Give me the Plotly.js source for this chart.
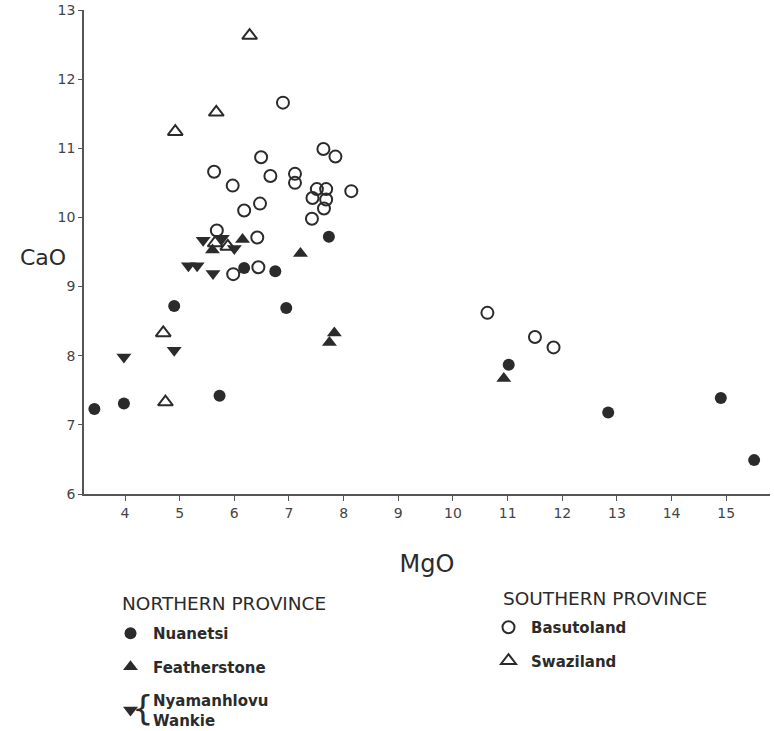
<!DOCTYPE html>
<html><head><meta charset="utf-8">
<script src="https://cdn.plot.ly/plotly-3.0.1.min.js"></script>
<style>html,body{margin:0;padding:0;background:#fff}#chart{width:774px;height:731px}</style>
</head><body><div id="chart"></div>
<script>
// Northern Province
const nuanetsiMgO = [3.44,3.98,4.90,5.73,6.18,6.75,6.95,7.73,11.02,12.84,14.90,15.51];
const nuanetsiCaO = [7.23,7.31,8.72,7.42,9.27,9.22,8.69,9.72,7.87,7.18,7.39,6.49];
const featherMgO = [5.60,6.15,7.21,7.74,7.83,10.93];
const featherCaO = [9.53,9.68,9.48,8.19,8.33,7.67];
const nyamaMgO = [3.98,4.90,5.16,5.32,5.43,5.61,5.78,6.00];
const nyamaCaO = [7.98,8.08,9.30,9.30,9.67,9.19,9.70,9.55];
// Southern Province
const basutoMgO = [6.89,7.63,7.85,6.49,5.63,6.66,7.11,7.11,5.97,7.51,7.68,8.14,7.43,7.68,6.47,6.18,7.64,7.42,5.68,6.42,5.98,6.44,10.63,11.50,11.84];
const basutoCaO = [11.66,10.99,10.88,10.87,10.66,10.60,10.63,10.50,10.46,10.41,10.41,10.38,10.28,10.26,10.20,10.10,10.13,9.98,9.81,9.71,9.18,9.28,8.62,8.27,8.12];
const swaziMgO = [4.70,4.74,4.92,5.67,6.28,5.65,5.88];
const swaziCaO = [8.33,7.33,11.24,11.52,12.63,9.63,9.58];

const xTicks = [4,5,6,7,8,9,10,11,12,13,14,15];
const yTicks = [6,7,8,9,10,11,12,13];
const groupTitles = ['NORTHERN PROVINCE', 'SOUTHERN PROVINCE'];

const ink = '#2b2b2b';
const FONT = 'DejaVu Sans, sans-serif';

const traces = [
  {name:'Nuanetsi', x:nuanetsiMgO, y:nuanetsiCaO, legend:'legend', legendgroup:'a',
   marker:{symbol:'circle', size:12, color:ink}},
  {name:'Featherstone', x:featherMgO, y:featherCaO, legend:'legend', legendgroup:'b',
   marker:{symbol:'triangle-up', size:13, color:ink}},
  {name:'Nyamanhlovu<br>Wankie', x:nyamaMgO, y:nyamaCaO, legend:'legend', legendgroup:'c',
   marker:{symbol:'triangle-down', size:13, color:ink}},
  {name:'Basutoland', x:basutoMgO, y:basutoCaO, legend:'legend2', legendgroup:'d',
   marker:{symbol:'circle-open', size:12, color:ink, line:{width:2, color:ink}}},
  {name:'Swaziland', x:swaziMgO, y:swaziCaO, legend:'legend2', legendgroup:'e',
   marker:{symbol:'triangle-up-open', size:13, color:ink, line:{width:2, color:ink}}}
].map(t => Object.assign({type:'scatter', mode:'markers', hoverinfo:'x+y+name'}, t));

const legendCommon = {
  xanchor:'left', yanchor:'top', bgcolor:'rgba(0,0,0,0)', borderwidth:0,
  font:{family:FONT, size:15, color:ink, weight:'bold'},
  indentation:-10, itemwidth:35, tracegroupgap:11, traceorder:'grouped', maxheight:1
};

const layout = {
  width:774, height:731,
  margin:{l:84, r:4, t:10, b:237, autoexpand:false},
  paper_bgcolor:'#fff', plot_bgcolor:'#fff',
  font:{family:FONT, color:ink},
  showlegend:true,
  xaxis:{range:[3.25,15.8], tickvals:xTicks, ticktext:xTicks.map(String),
    ticks:'outside', ticklen:5, tickwidth:1.3, tickcolor:'#555',
    showline:true, linecolor:'#555', linewidth:1.5, showgrid:false, zeroline:false,
    tickfont:{family:FONT, size:14, color:'#444'},
    title:{text:'MgO', font:{family:FONT, size:24, color:ink}, standoff:36}},
  yaxis:{range:[6,13], tickvals:yTicks, ticktext:yTicks.map(String),
    ticks:'outside', ticklen:4, tickwidth:1.3, tickcolor:'#555',
    showline:true, linecolor:'#555', linewidth:1.5, showgrid:false, zeroline:false,
    tickfont:{family:FONT, size:14, color:'#444'}},
  legend:Object.assign({}, legendCommon, {x:(118-84)/686, y:(494-617)/484}),
  legend2:Object.assign({}, legendCommon, {x:(496-84)/686, y:(494-611)/484}),
  annotations:[
    {text:'CaO', xref:'paper', yref:'paper', x:(43-84)/686, y:(494-257)/484,
     xanchor:'center', yanchor:'middle', showarrow:false,
     font:{family:FONT, size:22, color:ink}},
    {text:groupTitles[0], xref:'paper', yref:'paper', x:(120-84)/686, y:(494-603)/484,
     xanchor:'left', yanchor:'middle', showarrow:false,
     font:{family:FONT, size:18.5, color:ink}},
    {text:groupTitles[1], xref:'paper', yref:'paper', x:(501-84)/686, y:(494-598)/484,
     xanchor:'left', yanchor:'middle', showarrow:false,
     font:{family:FONT, size:18.5, color:ink}},
    {text:'{', xref:'paper', yref:'paper', x:(143-84)/686, y:(494-708)/484,
     xanchor:'center', yanchor:'middle', showarrow:false,
     font:{family:FONT, size:34, color:ink}}
  ]
};

Plotly.newPlot('chart', traces, layout, {displayModeBar:false, responsive:false});
</script>
</body></html>
